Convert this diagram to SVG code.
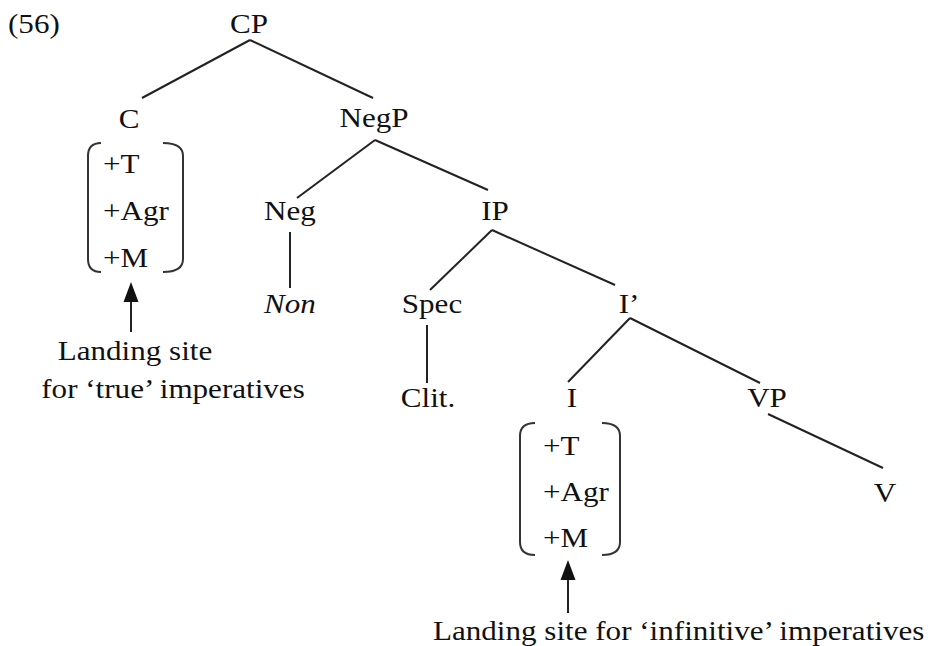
<svg xmlns="http://www.w3.org/2000/svg" width="932" height="646" viewBox="0 0 932 646">
<defs>
<style>
text{font-family:'Liberation Serif','Times New Roman',serif;font-size:28px;fill:#111}
.m{text-anchor:middle}
.e{stroke:#222;stroke-width:2;fill:none}
.b{stroke:#333;stroke-width:2;fill:none}
.h{fill:#111;stroke:none}
</style>
</defs>
<rect width="932" height="646" fill="#fff"/>
<text transform="translate(8,33) scale(1.11,1)">(56)</text>
<g id="connectors">
<line class="e" x1="250" y1="40" x2="142" y2="98"/>
<line class="e" x1="250" y1="40" x2="373" y2="98"/>
<line class="e" x1="375" y1="140" x2="297" y2="198"/>
<line class="e" x1="375" y1="140" x2="488" y2="190"/>
<line class="e" x1="290" y1="232" x2="290" y2="288"/>
<line class="e" x1="492" y1="230" x2="430" y2="290"/>
<line class="e" x1="492" y1="230" x2="615" y2="285"/>
<line class="e" x1="427" y1="325" x2="427" y2="383"/>
<line class="e" x1="630" y1="318" x2="568" y2="382"/>
<line class="e" x1="630" y1="318" x2="760" y2="383"/>
<line class="e" x1="768" y1="414" x2="883" y2="468"/>
<line class="e" x1="131" y1="332" x2="131" y2="298"/>
<polygon class="h" points="131,282 138.5,302 123.5,302"/>
<line class="e" x1="568" y1="613" x2="568" y2="576"/>
<polygon class="h" points="568,560 575.5,580 560.5,580"/>
</g>
<g id="CP"><text class="m" transform="translate(249,33) scale(1.11,1)">CP</text></g>
<g id="C">
<text class="m" transform="translate(129,128) scale(1.11,1)">C</text>
<path class="b" d="M101,143 Q88,143 88,156 L88,259 Q88,272 101,272"/>
<path class="b" d="M163,143 Q183,143 183,156 L183,259 Q183,272 163,272"/>
<text transform="translate(103,173) scale(1.11,1)">+T</text>
<text transform="translate(103,220) scale(1.11,1)">+Agr</text>
<text transform="translate(103,267) scale(1.11,1)">+M</text>
</g>
<g id="label1">
<text class="m" transform="translate(135,360) scale(1.11,1)">Landing site</text>
<text class="m" transform="translate(173,398) scale(1.11,1)">for ‘true’ imperatives</text>
</g>
<g id="NegP"><text class="m" transform="translate(374,127) scale(1.11,1)">NegP</text></g>
<g id="Neg"><text class="m" transform="translate(290,220) scale(1.11,1)">Neg</text></g>
<g id="Non"><text class="m" font-style="italic" transform="translate(290,313) scale(1.11,1)">Non</text></g>
<g id="IP"><text class="m" transform="translate(495,220) scale(1.11,1)">IP</text></g>
<g id="Spec"><text class="m" transform="translate(432,313) scale(1.11,1)">Spec</text></g>
<g id="Clit"><text class="m" transform="translate(428,407) scale(1.11,1)">Clit.</text></g>
<g id="Ibar"><text class="m" transform="translate(629,313) scale(1.11,1)">I’</text></g>
<g id="I">
<text class="m" transform="translate(572,407) scale(1.11,1)">I</text>
<path class="b" d="M535,423 Q520,423 520,436 L520,542 Q520,555 535,555"/>
<path class="b" d="M602,423 Q620,423 620,436 L620,542 Q620,555 602,555"/>
<text transform="translate(543,455) scale(1.11,1)">+T</text>
<text transform="translate(543,501) scale(1.11,1)">+Agr</text>
<text transform="translate(543,547) scale(1.11,1)">+M</text>
</g>
<g id="VP"><text class="m" transform="translate(767,407) scale(1.11,1)">VP</text></g>
<g id="V"><text class="m" transform="translate(885,502) scale(1.11,1)">V</text></g>
<g id="label2"><text transform="translate(433,640) scale(1.11,1)">Landing site for ‘infinitive’ imperatives</text></g>
</svg>
